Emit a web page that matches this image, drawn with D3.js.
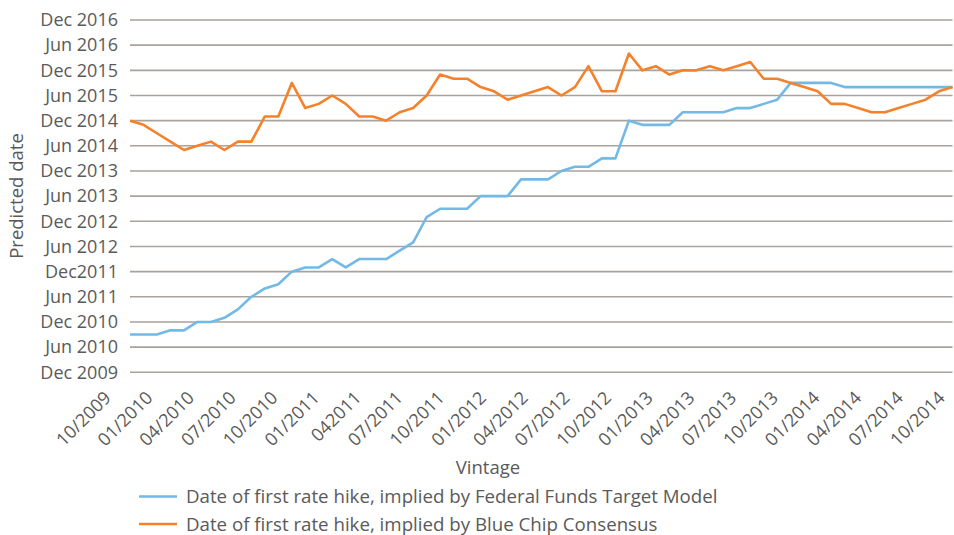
<!DOCTYPE html>
<html><head><meta charset="utf-8">
<script src="https://cdn.jsdelivr.net/npm/d3@7"></script>
<style>
body{margin:0;background:#fff}
svg{display:block}
text{font-family:"Open Sans",Lato,sans-serif;fill:#5a5a5a}
</style></head>
<body><svg id="chart" width="954" height="535"></svg>
<script>
// Vintage months (x categories)
const vintages = ["2009-10","2009-11","2009-12",
 "2010-01","2010-02","2010-03","2010-04","2010-05","2010-06","2010-07","2010-08","2010-09","2010-10","2010-11","2010-12",
 "2011-01","2011-02","2011-03","2011-04","2011-05","2011-06","2011-07","2011-08","2011-09","2011-10","2011-11","2011-12",
 "2012-01","2012-02","2012-03","2012-04","2012-05","2012-06","2012-07","2012-08","2012-09","2012-10","2012-11","2012-12",
 "2013-01","2013-02","2013-03","2013-04","2013-05","2013-06","2013-07","2013-08","2013-09","2013-10","2013-11","2013-12",
 "2014-01","2014-02","2014-03","2014-04","2014-05","2014-06","2014-07","2014-08","2014-09","2014-10","2014-11"];

// Predicted date of first hike, in months after Dec 2009
const fedFundsModel = [9,9,9,10,10,12,12,13,15,18, 20,21,24,25,25,27,25,27,27,27,
 29,31,37,39,39,39,42,42,42,46, 46,46,48,49,49,51,51,60,59,59,
 59,62,62,62,62,63,63,64,65,69, 69,69,69,68,68,68,68,68,68,68, 68,68];
const blueChip = [60,59,57,55,53,54,55,53,55,55, 61,61,69,63,64,66,64,61,61,60,
 62,63,66,71,70,70,68,67,65,66, 67,68,66,68,73,67,67,76,72,73,
 71,72,72,73,72,73,74,70,70,69, 68,67,64,64,63,62,62,63,64,65, 67,68];

const yTickValues = [0,6,12,18,24,30,36,42,48,54,60,66,72,78,84];
const yTickLabels = ["Dec 2009","Jun 2010","Dec 2010","Jun 2011","Dec2011","Jun 2012","Dec 2012","Jun 2013","Dec 2013","Jun 2014","Dec 2014","Jun 2015","Dec 2015","Jun 2016","Dec 2016"];
const xTickLabels = ["10/2009","01/2010","04/2010","07/2010","10/2010","01/2011","042011","07/2011","10/2011","01/2012","04/2012","07/2012","10/2012","01/2013","04/2013","07/2013","10/2013","01/2014","04/2014","07/2014","10/2014"];
const seriesNames = ["Date of first rate hike, implied by Federal Funds Target Model","Date of first rate hike, implied by Blue Chip Consensus"];
const seriesColors = ["#72b9e6","#f5822a"];

const svg = d3.select("#chart");
const x = d3.scalePoint(vintages, [130, 952.5]);
const y = d3.scaleLinear([0, 84], [372.3, 20]);
const xl = d3.scalePoint(xTickLabels, [130, 964]);

// gridlines
svg.append("g").selectAll("line").data(yTickValues).join("line")
  .attr("x1", 130).attr("x2", 952.5)
  .attr("y1", d => y(d)).attr("y2", d => y(d))
  .attr("stroke", "#aaa29c").attr("stroke-width", 1.6);

// y tick labels
svg.append("g").selectAll("text").data(yTickValues).join("text")
  .attr("x", 118).attr("y", d => y(d)).attr("dy", "0.35em")
  .attr("text-anchor", "end").attr("font-size", 18)
  .text((d, i) => yTickLabels[i]);

// x tick labels
svg.append("g").selectAll("text").data(xTickLabels).join("text")
  .attr("text-anchor", "end").attr("font-size", 18)
  .attr("transform", d => `translate(${xl(d) - 18},399) rotate(-45)`)
  .text(d => d);

// lines
const series = [fedFundsModel, blueChip];
const line = d3.line().x((d, i) => x(vintages[i])).y(d => y(d));
svg.append("g").selectAll("path").data(series).join("path")
  .attr("d", line).attr("fill", "none")
  .attr("stroke", (d, i) => seriesColors[i]).attr("stroke-width", 2.6)
  .attr("stroke-linejoin", "round");

// axis titles
svg.append("text").attr("x", 488).attr("y", 468).attr("dy", "0.35em")
  .attr("text-anchor", "middle").attr("font-size", 18.5).text("Vintage");
svg.append("text").attr("transform", "translate(17,196) rotate(-90)").attr("dy", "0.35em")
  .attr("text-anchor", "middle").attr("font-size", 18.5).text("Predicted date");

// legend
const lg = svg.append("g").selectAll("g").data(seriesNames).join("g")
  .attr("transform", (d, i) => `translate(0,${496.5 + i * 27.5})`);
lg.append("line").attr("x1", 139).attr("x2", 177).attr("stroke", (d, i) => seriesColors[i]).attr("stroke-width", 2.6);
lg.append("text").attr("x", 186).attr("dy", "0.35em").attr("font-size", 18.7).text(d => d);
</script></body></html>
